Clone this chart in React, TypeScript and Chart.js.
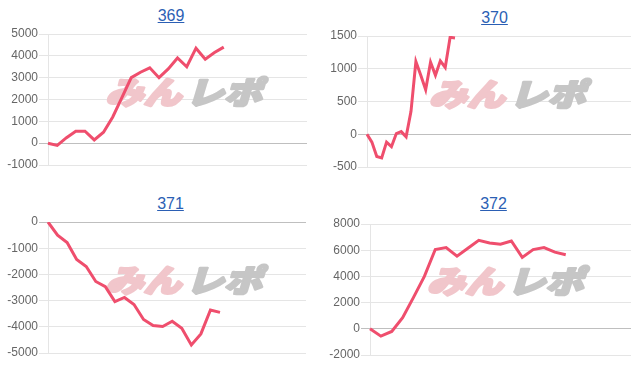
import React, { useEffect, useRef } from "react";
import { Chart, registerables } from "chart.js";

Chart.register(...registerables);

// ---- data ----
const titles = ["369", "370", "371", "372"];
const values369 = [0, -100, 250, 550, 550, 150, 500, 1200, 2100, 3000, 3250, 3450, 3000, 3400, 3900, 3500, 4350, 3850, 4150, 4400];
const values370 = [0, -120, -340, -360, -120, -190, 10, 40, -40, 350, 1110, 900, 680, 1100, 900, 1120, 1020, 1480, 1470];
const values371 = [0, -500, -780, -1430, -1700, -2270, -2470, -3040, -2880, -3150, -3720, -3950, -3990, -3790, -4060, -4690, -4270, -3360, -3450];
const values372 = [0, -560, -200, 850, 2400, 4000, 6050, 6200, 5550, 6150, 6750, 6550, 6450, 6700, 5450, 6050, 6200, 5850, 5650];
const slotCounts = [29, 55, 28, 25];
const yMins = [-1000, -500, -5000, -2000];
const yMaxs = [5000, 1500, 0, 8000];
const ySteps = [1000, 500, 1000, 2000];
const seriesList = [values369, values370, values371, values372];

// ---- layout (page px) ----
const layouts = [
  { left: 0, top: 24, width: 316, height: 151, yWidth: 48, padRight: 9, titleCx: 171, titleTop: 6, markX: 187.5, markY: 91 },
  { left: 316, top: 26, width: 316, height: 151, yWidth: 51, padRight: 1, titleCx: 494.5, titleTop: 8, markX: 511, markY: 93 },
  { left: 0, top: 212, width: 316, height: 151, yWidth: 48, padRight: 10, titleCx: 170.5, titleTop: 193.5, markX: 187.5, markY: 279 },
  { left: 316, top: 214, width: 316, height: 151, yWidth: 54, padRight: 1, titleCx: 493.5, titleTop: 194, markX: 509, markY: 280.5 },
];

const FONT = '"Liberation Sans", Arial, Helvetica, sans-serif';
const LINE_COLOR = "#ef4e6d";

const watermarkPlugin = {
  id: "watermark",
  beforeDatasetsDraw(chart: any, _args: any, opts: any) {
    const ctx = chart.ctx;
    ctx.save();
    ctx.translate(opts.x, opts.y);
    ctx.transform(1, 0, -0.3, 1, 0, 0);
    ctx.scale(1.22, 1);
    ctx.font = '900 31px "Noto Sans CJK JP"';
    ctx.textBaseline = "middle";
    ctx.textAlign = "left";
    ctx.lineJoin = "round";
    ctx.lineWidth = 2.6;
    ctx.fillStyle = "#f1c6cb";
    ctx.strokeStyle = "#f1c6cb";
    ctx.strokeText("みん", -64, 1);
    ctx.fillText("みん", -64, 1);
    ctx.fillStyle = "#c6c6c6";
    ctx.strokeStyle = "#c6c6c6";
    ctx.strokeText("レポ", 2, 1);
    ctx.fillText("レポ", 2, 1);
    ctx.restore();
  },
};

function MiniChart({ idx }: { idx: number }) {
  const ref = useRef<HTMLCanvasElement | null>(null);
  const lay = layouts[idx];
  useEffect(() => {
    if (!ref.current) return;
    const labels = Array.from({ length: slotCounts[idx] }, (_, i) => String(i + 1));
    const chart = new Chart(ref.current, {
      type: "line",
      data: {
        labels,
        datasets: [
          {
            data: seriesList[idx],
            borderColor: LINE_COLOR,
            backgroundColor: LINE_COLOR,
            borderWidth: 3,
            pointRadius: 0,
            tension: 0,
            fill: false,
          },
        ],
      },
      options: {
        animation: false,
        responsive: false,
        maintainAspectRatio: false,
        layout: { padding: { top: 10, bottom: 10, left: 0, right: lay.padRight } },
        plugins: {
          legend: { display: false },
          tooltip: { enabled: false },
          title: { display: false },
          watermark: { x: lay.markX - lay.left, y: lay.markY - lay.top },
        } as any,
        scales: {
          x: { display: false },
          y: {
            min: yMins[idx],
            max: yMaxs[idx],
            afterFit: (s: any) => {
              s.width = lay.yWidth;
            },
            ticks: {
              stepSize: ySteps[idx],
              color: "#666",
              padding: 1,
              font: { family: FONT, size: 12 },
              callback: (v: any) => String(v),
            },
            grid: {
              color: (c: any) => (c.tick && c.tick.value === 0 ? "rgba(0,0,0,0.25)" : "rgba(0,0,0,0.1)"),
              tickLength: 9,
              lineWidth: 1,
            },
            border: { color: "rgba(0,0,0,0.1)" },
          },
        },
      },
      plugins: [watermarkPlugin],
    } as any);
    return () => chart.destroy();
  }, [idx]);

  return (
    <>
      <a
        href="#"
        style={{
          position: "absolute",
          left: lay.titleCx - 40,
          width: 80,
          top: lay.titleTop,
          height: 20,
          lineHeight: "20px",
          textAlign: "center",
          fontFamily: FONT,
          fontSize: 16,
          color: "#2b5fb4",
          textDecoration: "underline",
        }}
      >
        {titles[idx]}
      </a>
      <canvas
        ref={ref}
        width={lay.width}
        height={lay.height}
        style={{ position: "absolute", left: lay.left, top: lay.top, width: lay.width, height: lay.height }}
      />
    </>
  );
}

export default function App() {
  return (
    <div style={{ position: "absolute", left: 0, top: 0, width: 632, height: 366, background: "#fff", overflow: "hidden" }}>
      {[0, 1, 2, 3].map((i) => (
        <MiniChart key={i} idx={i} />
      ))}
    </div>
  );
}
